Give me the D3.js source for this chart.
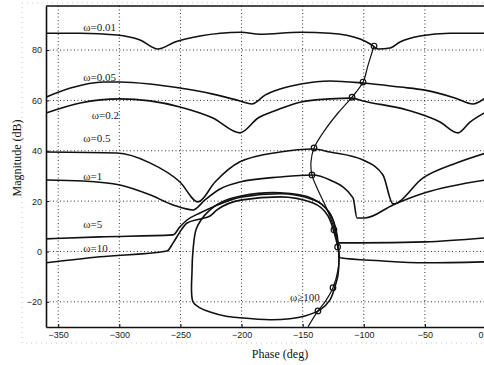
<!DOCTYPE html>
<html>
<head>
<meta charset="utf-8">
<script src="https://cdn.jsdelivr.net/npm/d3@7"></script>
<style>
body { margin:0; background:#fff; }
svg { display:block; }
.tick text { font-family:"Liberation Sans", Arial, sans-serif; font-size:9px; fill:#222; }
.lbl { font-family:"Liberation Serif", "Times New Roman", serif; font-size:11px; fill:#222; }
.axlbl { font-family:"Liberation Serif", "Times New Roman", serif; font-size:12px; fill:#111; }
</style>
</head>
<body>
<svg id="chart"></svg>
<script>
// phase (deg), magnitude (dB)
var bound001 = [[-360,86.7],[-332,86.7],[-302,86.0],[-283,84.0],[-268.4,80.4],[-254.5,83.2],[-234,85.6],[-200.5,87.1],[-185,86.3],[-152,87.1],[-127.6,86.7],[-103,84.4],[-93.3,82.0],[-88.4,80.4],[-78.5,80.8],[-70.4,83.2],[-54,85.6],[-29.5,86.7],[0,86.7]];
var bound005 = [[-360,61.3],[-340,64.9],[-313,67.3],[-299.5,67.3],[-275,66.5],[-250.4,64.9],[-223.4,62.5],[-201.3,59.8],[-191.5,58.6],[-180.8,62.1],[-168.5,64.5],[-151.4,66.5],[-127.6,67.7],[-100.6,66.9],[-70.4,65.3],[-50,64.1],[-25.4,61.0],[-10.6,58.6],[0,61.3]];
var bound02 = [[-360,55.0],[-332,59.0],[-299.5,60.6],[-275,59.8],[-250.4,57.4],[-223.4,53.0],[-201.3,47.1],[-186.5,53.0],[-171,56.2],[-151.4,59.4],[-127.6,60.6],[-109.6,60.9],[-100.6,59.8],[-64.6,56.2],[-37.6,51.4],[-22.9,47.1],[-13.1,51.4],[0,55.4]];
var bound05 = [[-360,39.5],[-302,39.1],[-275,35.2],[-250.4,27.6],[-235.6,19.7],[-221.7,27.6],[-201.3,35.6],[-168.5,39.5],[-141.5,40.7],[-127.6,39.5],[-100.6,36.3],[-84.3,30.4],[-76.1,18.9],[-51.5,29.2],[-23.7,35.2],[0,39.1]];
var bound1 = [[-360,28.4],[-330,28.0],[-299.5,26.4],[-275,22.5],[-256,18.5],[-239.7,16.5],[-229.9,20.5],[-217.6,24.8],[-201.3,27.6],[-168.5,29.6],[-142.4,30.4],[-127.6,28.4],[-108.8,21.3],[-105.5,13.3],[-99,13.3],[-76.1,18.5],[-50,23.3],[0,28.4]];
var bound5 = [[-360,5.0],[-315.8,5.8],[-256,6.6],[-250.4,9.8],[-244.6,12.5],[-234,15.3],[-223.4,17.7],[-199.6,21.7],[-168.5,22.9],[-141.5,20.5],[-127.6,14.9],[-122.7,7.8],[-121.1,3.4],[-103,3.4],[-50,3.8],[0,5.4]];
var bound10 = [[-360,-4.5],[-315.8,-2.1],[-261,0.2],[-256,3.4],[-250.4,7.8],[-244.6,11.3],[-234,12.9],[-225.8,14.1],[-220.1,16.5],[-199.6,20.5],[-168.5,21.7],[-141.5,19.3],[-129.3,14.1],[-124.4,7.8],[-121.1,1.4],[-119.5,-2.5],[-86.7,-3.7],[-50,-4.5],[0,-4.1]];
var bound100 = [[-240.5,-7.3],[-239.7,0.6],[-237.3,8.6],[-233.2,12.5],[-227.5,15.7],[-217.6,19.3],[-199.6,22.1],[-168.5,23.3],[-141.5,20.9],[-128.5,15.7],[-122.7,8.6],[-120.3,-3.0],[-121.1,-9.3],[-123.6,-14.0],[-127.6,-19.2],[-135.8,-23.2],[-148.1,-25.6],[-160.4,-26.7],[-176.7,-27.1],[-201.3,-26.3],[-213.5,-25.6],[-225.8,-24.0],[-234,-22.4],[-239.7,-20.0]];
var nominal = [[-91.6,81.6],[-96.5,74.0],[-100.6,67.3],[-109.6,61.3],[-121.1,55.0],[-131.7,48.3],[-140.7,41.1],[-143.2,35.6],[-142.4,30.4],[-137.5,24.4],[-130.9,17.7],[-125.2,10.6],[-122,4.6],[-120.3,-1.3],[-121.1,-7.3],[-125.2,-14.4],[-131.7,-20.0],[-137.5,-23.6],[-145.6,-29.9]];
var markers = [[-91.6,81.6],[-100.6,67.3],[-109.6,61.3],[-140.7,41.1],[-142.4,30.4],[-124.4,8.6],[-121.4,1.8],[-125.2,-14.4],[-137.5,-23.6]];
var labels = [["\u03c9=0.01",-329.5,87.4],["\u03c9=0.05",-329.5,67.6],["\u03c9=0.2",-322.5,52.6],["\u03c9=0.5",-329.5,43.3],["\u03c9=1",-329.5,28.2],["\u03c9=5",-329.5,9.2],["\u03c9=10",-329.5,-0.4],["\u03c9\u2265100",-160.4,-19.6]];
var xTicks = [-350,-300,-250,-200,-150,-100,-50,0];
var yTicks = [-20,0,20,40,60,80];

var W = 484, H = 365;
var svg = d3.select("#chart").attr("width", W).attr("height", H);

var x = d3.scaleLinear().domain([-360,0]).range([46,486]);
var y = d3.scaleLinear().domain([-30,97.5]).range([327,6]);

// faint outer box of the scanned figure
svg.append("rect")
    .attr("x",22).attr("y",3).attr("width",470).attr("height",340)
    .attr("fill","none").attr("stroke","#bbb").attr("stroke-width",0.8)
    .attr("stroke-dasharray","1,4");

// grid
var grid = svg.append("g");
grid.selectAll("line.gx").data(xTicks).enter().append("line")
    .attr("x1",function(d){return x(d)}).attr("x2",function(d){return x(d)})
    .attr("y1",y(97.5)).attr("y2",y(-30))
    .attr("stroke","#333").attr("stroke-width",1).attr("stroke-dasharray","1,2.5");
grid.selectAll("line.gy").data(yTicks).enter().append("line")
    .attr("y1",function(d){return y(d)}).attr("y2",function(d){return y(d)})
    .attr("x1",x(-360)).attr("x2",x(0))
    .attr("stroke","#333").attr("stroke-width",1).attr("stroke-dasharray","1,2.5");

// axes
var xAxis = d3.axisBottom(x).tickValues(xTicks).tickSizeInner(-3).tickSizeOuter(0).tickPadding(5);
var yAxis = d3.axisLeft(y).tickValues(yTicks).tickSizeInner(-3).tickSizeOuter(0).tickPadding(4);
svg.append("g").attr("transform","translate(0,327)").call(xAxis)
    .call(function(g){
        g.select(".domain").attr("stroke","#111").attr("stroke-width",1.6);
        // last label sits at the cut edge of the figure
        g.selectAll(".tick text").filter(function(d){return d===0})
            .attr("text-anchor","end").attr("dx",-3);
    });
svg.append("g").attr("transform","translate(46,0)").call(yAxis)
    .call(function(g){ g.select(".domain").attr("stroke","#111").attr("stroke-width",1.6); });
svg.append("line").attr("x1",46).attr("x2",486).attr("y1",6).attr("y2",6)
    .attr("stroke","#111").attr("stroke-width",1.6);

// curves
svg.append("clipPath").attr("id","plotclip").append("rect")
    .attr("x",46).attr("y",6).attr("width",440).attr("height",321);
var plot = svg.append("g").attr("clip-path","url(#plotclip)");

var lineX = d3.line().x(function(d){return x(d[0])}).y(function(d){return y(d[1])}).curve(d3.curveMonotoneX);
var lineFree = d3.line().x(function(d){return x(d[0])}).y(function(d){return y(d[1])}).curve(d3.curveCatmullRom);
var lineLoop = d3.line().x(function(d){return x(d[0])}).y(function(d){return y(d[1])}).curve(d3.curveCatmullRomClosed);

var bounds = [bound001, bound005, bound02, bound05, bound1, bound5, bound10];
plot.selectAll("path.bound").data(bounds).enter().append("path")
    .attr("class","bound").attr("d",lineX)
    .attr("fill","none").attr("stroke","#111").attr("stroke-width",1.6);
plot.append("path").datum(bound100).attr("d",lineLoop)
    .attr("fill","none").attr("stroke","#111").attr("stroke-width",1.6);
plot.append("path").datum(nominal).attr("d",lineFree)
    .attr("fill","none").attr("stroke","#111").attr("stroke-width",1.2);
plot.selectAll("circle").data(markers).enter().append("circle")
    .attr("cx",function(d){return x(d[0])}).attr("cy",function(d){return y(d[1])})
    .attr("r",2.8).attr("fill","none").attr("stroke","#111").attr("stroke-width",1.2);

// labels
svg.selectAll("text.lbl").data(labels).enter().append("text")
    .attr("class","lbl")
    .attr("x",function(d){return x(d[1])})
    .attr("y",function(d){return y(d[2])})
    .text(function(d){return d[0]});

svg.append("text").attr("class","axlbl").attr("text-anchor","middle")
    .attr("x",280).attr("y",358).text("Phase (deg)");
svg.append("g").attr("transform","translate(21,158)")
    .append("text").attr("class","axlbl").attr("text-anchor","middle")
    .attr("transform","rotate(-90)").text("Magnitude (dB)");
</script>
</body>
</html>
